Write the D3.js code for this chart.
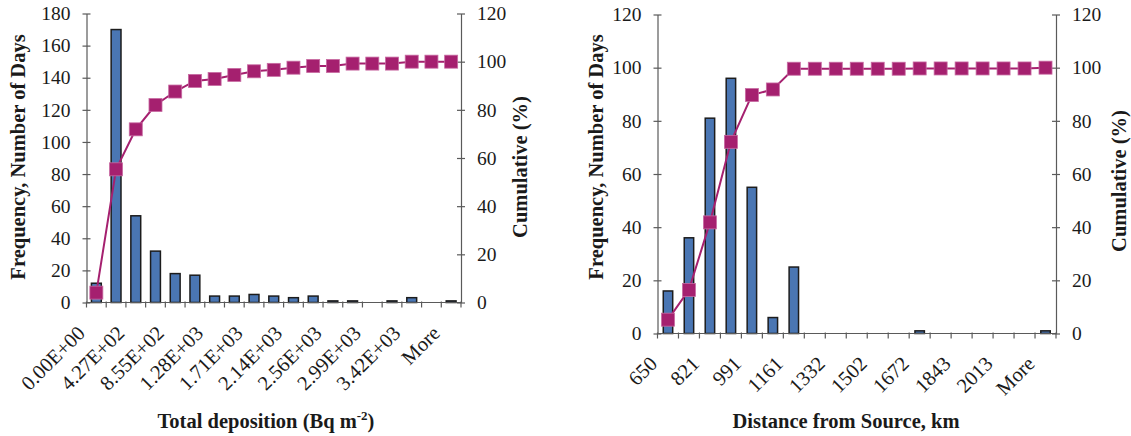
<!DOCTYPE html>
<html>
<head>
<meta charset="utf-8">
<script src="https://cdn.jsdelivr.net/npm/d3@7"></script>
<style>
  html, body { margin: 0; padding: 0; background: #fff; }
  svg { display: block; }
  text { font-family: "Liberation Serif", "Times New Roman", serif; fill: #1a1a1a; }
</style>
</head>
<body>
<svg id="chart" width="1131" height="436"></svg>
<script>
// Histogram of total deposition: bin labels (every other bin labelled), day counts, cumulative %
const depoLabels = ["0.00E+00", "", "4.27E+02", "", "8.55E+02", "", "1.28E+03", "", "1.71E+03", "",
                    "2.14E+03", "", "2.56E+03", "", "2.99E+03", "", "3.42E+03", "", "More"];
const depoFreq = [12, 170, 54, 32, 18, 17, 4, 4, 5, 4, 3, 4, 1, 1, 0, 1, 3, 0, 1];
const depoCum = [4.1, 55.3, 71.9, 82.0, 87.6, 92.0, 92.8, 94.5, 96.0, 96.6,
                 97.5, 98.2, 98.2, 99.2, 99.2, 99.2, 100, 100, 100];
const depoFreqTicks = [0, 20, 40, 60, 80, 100, 120, 140, 160, 180];
const depoCumTicks = [0, 20, 40, 60, 80, 100, 120];

// Histogram of distance from source
const distLabels = ["650", "", "821", "", "991", "", "1161", "", "1332", "",
                    "1502", "", "1672", "", "1843", "", "2013", "", "More"];
const distFreq = [16, 36, 81, 96, 55, 6, 25, 0, 0, 0, 0, 0, 1, 0, 0, 0, 0, 0, 1];
const distCum = [5.2, 16.4, 41.8, 72.1, 89.7, 91.8, 99.6, 99.6, 99.6, 99.6,
                 99.6, 99.6, 99.7, 99.7, 99.7, 99.7, 99.7, 99.7, 100];
const distFreqTicks = [0, 20, 40, 60, 80, 100, 120];
const distCumTicks = [0, 20, 40, 60, 80, 100, 120];

const BAR_FILL = "#4a76b3";
const BAR_STROKE = "#1c1c1c";
const CUM_COLOR = "#a5206f";
const AXIS_COLOR = "#5a5a5a";
const NUM_SIZE = 19.5;
const CAT_SIZE = 20.5;
const TITLE_SIZE = 20.5;

const svg = d3.select("#chart");

function drawPanel(o) {
  const g = svg.append("g");
  const n = o.labels.length;
  const x = d3.scaleBand().domain(d3.range(n)).range([o.left, o.right]).padding(0);
  const yL = d3.scaleLinear().domain([0, d3.max(o.freqTicks)]).range([o.bottom, o.top]);
  const yR = d3.scaleLinear().domain([0, d3.max(o.cumTicks)]).range([o.bottom, o.top]);
  const bw = x.bandwidth() * o.barFrac;
  const cx = i => x(i) + x.bandwidth() / 2;

  // bars
  g.append("g").selectAll("rect")
    .data(o.freq.map((v, i) => ({ v, i })).filter(d => d.v > 0))
    .join("rect")
    .attr("x", d => cx(d.i) - bw / 2)
    .attr("width", bw)
    .attr("y", d => yL(d.v))
    .attr("height", d => o.bottom - yL(d.v))
    .attr("fill", BAR_FILL)
    .attr("stroke", BAR_STROKE)
    .attr("stroke-width", 1.5);

  // left axis
  const axL = g.append("g").attr("transform", `translate(${o.left},0)`)
    .call(d3.axisLeft(yL).tickValues(o.freqTicks).tickSize(4).tickPadding(12).tickSizeOuter(0));
  axL.selectAll(".tick line").attr("x2", 4).attr("x1", -4);
  // right axis
  const axR = g.append("g").attr("transform", `translate(${o.right},0)`)
    .call(d3.axisRight(yR).tickValues(o.cumTicks).tickSize(4).tickPadding(12).tickSizeOuter(0));
  axR.selectAll(".tick line").attr("x1", -4).attr("x2", 4);
  [axL, axR].forEach(a => {
    a.select(".domain").attr("stroke", AXIS_COLOR).attr("stroke-width", 1.2);
    a.selectAll(".tick line").attr("stroke", AXIS_COLOR).attr("stroke-width", 1.2);
    a.selectAll(".tick text").attr("font-size", NUM_SIZE).attr("font-family", "Liberation Serif").attr("fill", "#1a1a1a");
  });

  // category axis with boundary ticks
  const xa = g.append("g");
  xa.append("line")
    .attr("x1", o.left).attr("x2", o.right)
    .attr("y1", o.bottom).attr("y2", o.bottom)
    .attr("stroke", AXIS_COLOR).attr("stroke-width", 1.2);
  xa.selectAll("line.tk").data(d3.range(n + 1)).join("line")
    .attr("class", "tk")
    .attr("x1", i => o.left + i * x.step()).attr("x2", i => o.left + i * x.step())
    .attr("y1", o.bottom - 1).attr("y2", o.bottom + 5)
    .attr("stroke", AXIS_COLOR).attr("stroke-width", 1.2);
  xa.selectAll("text").data(o.labels.map((t, i) => ({ t, i })).filter(d => d.t !== "")).join("text")
    .attr("transform", d => `translate(${cx(d.i) + o.lblDx},${o.bottom + o.lblDy}) rotate(-45)`)
    .attr("text-anchor", "end")
    .attr("font-size", CAT_SIZE)
    .text(d => d.t);

  // cumulative line and square markers
  const line = d3.line().x((d, i) => cx(i)).y(d => yR(d));
  g.append("path").datum(o.cum)
    .attr("d", line)
    .attr("fill", "none")
    .attr("stroke", CUM_COLOR)
    .attr("stroke-width", 2);
  const ms = 13;
  g.append("g").selectAll("rect").data(o.cum).join("rect")
    .attr("x", (d, i) => cx(i) - ms / 2)
    .attr("y", d => yR(d) - ms / 2)
    .attr("width", ms).attr("height", ms)
    .attr("fill", CUM_COLOR)
    .attr("stroke", "#c86aa2")
    .attr("stroke-width", 0.8);

  // axis titles
  g.append("text")
    .attr("transform", `translate(${o.yTitleX},${o.yTitleY}) rotate(-90)`)
    .attr("text-anchor", "middle").attr("font-weight", "bold").attr("font-size", TITLE_SIZE)
    .text("Frequency, Number of Days");
  g.append("text")
    .attr("transform", `translate(${o.cTitleX},${o.cTitleY}) rotate(-90)`)
    .attr("text-anchor", "middle").attr("font-weight", "bold").attr("font-size", TITLE_SIZE)
    .text("Cumulative (%)");
  const xt = g.append("text")
    .attr("x", o.xTitleX).attr("y", o.xTitleY)
    .attr("text-anchor", "middle").attr("font-weight", "bold").attr("font-size", TITLE_SIZE);
  o.xTitle(xt);
}

drawPanel({
  labels: depoLabels, freq: depoFreq, cum: depoCum,
  freqTicks: depoFreqTicks, cumTicks: depoCumTicks,
  left: 86.5, right: 461, top: 13.5, bottom: 302.5, barFrac: 0.5,
  lblDx: -10, lblDy: 32,
  yTitleX: 25, yTitleY: 157, cTitleX: 527, cTitleY: 167,
  xTitleX: 266, xTitleY: 428,
  xTitle: t => {
    t.append("tspan").text("Total deposition (Bq m");
    t.append("tspan").attr("font-size", 13).attr("dy", -8).text("-2");
    t.append("tspan").attr("dy", 8).text(")");
  }
});

drawPanel({
  labels: distLabels, freq: distFreq, cum: distCum,
  freqTicks: distFreqTicks, cumTicks: distCumTicks,
  left: 657.5, right: 1056, top: 14.5, bottom: 333.5, barFrac: 0.45,
  lblDx: -9.5, lblDy: 31.5,
  yTitleX: 603, yTitleY: 157, cTitleX: 1126, cTitleY: 181,
  xTitleX: 846, xTitleY: 428,
  xTitle: t => t.text("Distance from Source, km")
});
</script>
</body>
</html>
